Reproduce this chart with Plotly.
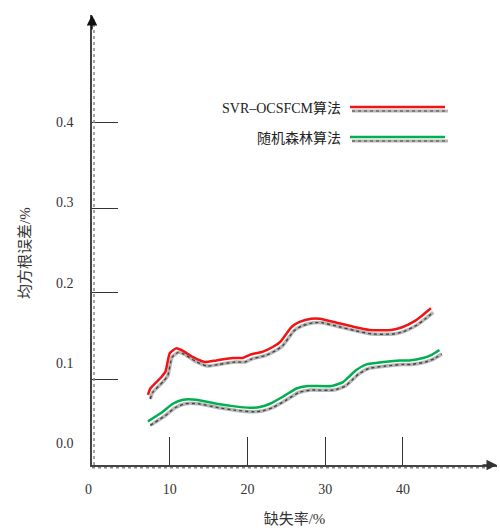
import plotly.graph_objects as go

# Data
svr_x = [7.2, 7.5, 8.9, 9.45, 10.0, 10.8, 11.5, 13.0, 14.5, 16.0, 18.1, 19.4, 20.3, 22.0, 23.3, 24.2,
         25.7, 26.7, 28.2, 29.3, 31.5, 33.6, 35.7, 38.5, 39.8, 41.5, 42.6, 43.6]
svr_y = [0.060, 0.068, 0.082, 0.089, 0.112, 0.118, 0.116, 0.107, 0.101, 0.103, 0.106, 0.106, 0.110,
         0.114, 0.120, 0.126, 0.145, 0.151, 0.155, 0.155, 0.150, 0.145, 0.141, 0.141, 0.144, 0.152,
         0.160, 0.168]
rf_x = [7.2, 9.1, 10.4, 11.7, 13.4, 16.0, 18.1, 20.3, 21.6, 22.9, 24.6, 26.3, 27.8, 30.8, 32.3, 33.1,
        34.0, 35.3, 37.5, 39.6, 40.8, 42.6, 43.7, 44.7]
rf_y = [0.027, 0.039, 0.049, 0.054, 0.054, 0.049, 0.046, 0.044, 0.045, 0.049, 0.058, 0.068, 0.071,
        0.071, 0.076, 0.083, 0.091, 0.098, 0.101, 0.103, 0.103, 0.106, 0.110, 0.116]

series_names = ["SVR–OCSFCM算法", "随机森林算法"]
series_colors = ["#f01414", "#00b050"]

y_tick_vals = [0.0, 0.1, 0.2, 0.3, 0.4]
y_tick_text = ["0.0", "0.1", "0.2", "0.3", "0.4"]
y_mark_vals = [0.079, 0.188, 0.293, 0.4]
x_tick_vals = [0, 10, 20, 30, 40]
x_tick_text = ["0  ", "10", "20", "30", "40"]

x_title = "缺失率/%"
y_title = "均方根误差/%"

x_range = [0, 52.1]
y_range = [-0.0274, 0.5337]

FONT = "Liberation Serif, Times New Roman, Noto Sans CJK SC, serif"

fig = go.Figure()

shadow_dx, shadow_dy = 0.3, -0.005
for xs, ys, name, col in [(svr_x, svr_y, series_names[0], series_colors[0]),
                          (rf_x, rf_y, series_names[1], series_colors[1])]:
    sx = [v + shadow_dx for v in xs]
    sy = [v + shadow_dy for v in ys]
    fig.add_trace(go.Scatter(x=sx, y=sy, mode="lines", line=dict(color="#b5b5b5", width=3.5, shape="spline", smoothing=0.5),
                             showlegend=False, hoverinfo="skip"))
    fig.add_trace(go.Scatter(x=sx, y=sy, mode="lines", line=dict(color="#444444", width=1.4, dash="dot", shape="spline", smoothing=0.5),
                             showlegend=False, hoverinfo="skip"))
    fig.add_trace(go.Scatter(x=xs, y=ys, mode="lines", name=name,
                             line=dict(color=col, width=2.5, shape="spline", smoothing=0.5), showlegend=False))

fig.update_layout(
    width=500, height=530,
    margin=dict(l=92, r=3, t=15, b=65),
    paper_bgcolor="white", plot_bgcolor="white",
    font=dict(family=FONT, size=14, color="#333"),
    xaxis=dict(range=x_range, tickvals=x_tick_vals, ticktext=x_tick_text, ticks="inside", ticklen=28,
               tickcolor="#333", tickwidth=1, showgrid=False, zeroline=False, showline=True,
               linecolor="#444", linewidth=1.5, ticklabelstandoff=10,
               title=dict(text=x_title, font=dict(size=15, family=FONT), standoff=18)),
    yaxis=dict(range=y_range, tickvals=y_tick_vals, ticktext=y_tick_text, ticks="", showgrid=False,
               zeroline=False, showline=True, linecolor="#444", linewidth=1.5, ticklabelstandoff=14),
    yaxis2=dict(range=y_range, overlaying="y", side="left", anchor="x", tickvals=y_mark_vals,
                ticks="inside", ticklen=26, tickcolor="#333", tickwidth=1, showticklabels=False,
                showgrid=False, zeroline=False, showline=False),
    showlegend=False,
)
fig.add_trace(go.Scatter(x=[None], y=[None], yaxis="y2", showlegend=False))


def px2paper(px, py):
    return (px - 92) / 405, (465 - py) / 450


# y-axis title placed as in the reference
tx, ty = px2paper(25, 253)
fig.add_annotation(xref="paper", yref="paper", x=tx, y=ty, text=y_title, showarrow=False, textangle=-90,
                   xanchor="center", yanchor="middle", font=dict(size=15, family=FONT, color="#333"))

# axis shadow stipple lines
fig.add_shape(type="line", xref="paper", yref="paper", x0=0.005, x1=0.005, y0=0, y1=0.99,
              line=dict(color="#888", width=1.5, dash="dot"))
fig.add_shape(type="line", xref="paper", yref="paper", x0=0.0, x1=0.99, y0=-0.006, y1=-0.006,
              line=dict(color="#888", width=1.5, dash="dot"))

# arrows
fig.add_annotation(xref="paper", yref="paper", x=0, y=1.0, ax=0, ay=16, showarrow=True, text="",
                   arrowhead=2, arrowsize=1.4, arrowwidth=1.5, arrowcolor="#111")
fig.add_annotation(xref="paper", yref="paper", x=1.0, y=0, ax=-16, ay=0, showarrow=True, text="",
                   arrowhead=2, arrowsize=1.4, arrowwidth=1.5, arrowcolor="#333")

# custom legend (text left, line sample right)
leg_rows = [(108, series_names[0], series_colors[0]), (138, series_names[1], series_colors[1])]
for py, name, col in leg_rows:
    tx, ty = px2paper(343, py)
    fig.add_annotation(xref="paper", yref="paper", x=tx, y=ty, text=name, showarrow=False,
                       xanchor="right", yanchor="middle", font=dict(size=14, family=FONT, color="#222"))
    x0, y0 = px2paper(352, py + 3)
    x1, _ = px2paper(448, py + 3)
    fig.add_shape(type="line", xref="paper", yref="paper", x0=x0, x1=x1, y0=y0, y1=y0,
                  line=dict(color="#b5b5b5", width=3))
    fig.add_shape(type="line", xref="paper", yref="paper", x0=x0, x1=x1, y0=y0, y1=y0,
                  line=dict(color="#444", width=1.2, dash="dot"))
    x0, y0 = px2paper(350, py - 1)
    x1, _ = px2paper(445, py - 1)
    fig.add_shape(type="line", xref="paper", yref="paper", x0=x0, x1=x1, y0=y0, y1=y0,
                  line=dict(color=col, width=2.5))

fig.write_html("out.html", config={"displayModeBar": False},
               post_script="document.body.style.margin='0';document.body.style.padding='0';document.body.style.overflow='hidden';")
